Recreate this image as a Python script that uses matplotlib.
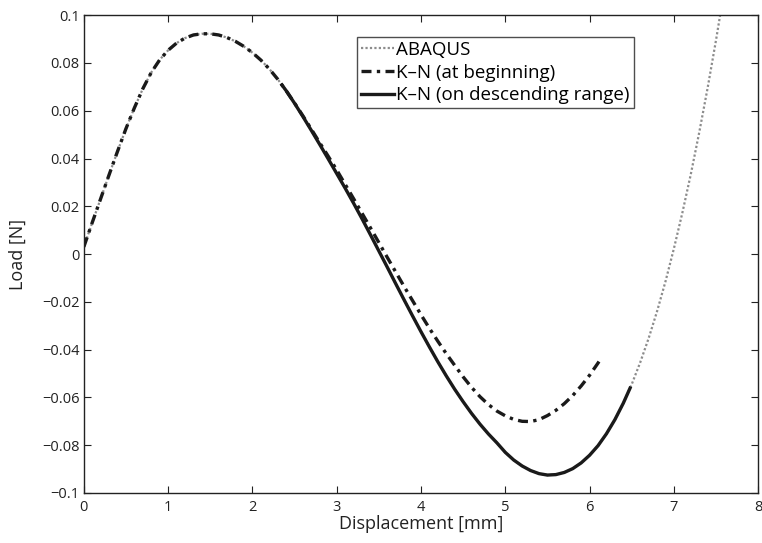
import matplotlib
matplotlib.use("Agg")
import matplotlib.pyplot as plt

# ABAQUS reference curve
abaqus_x = [0.0, 0.1, 0.2, 0.3, 0.4, 0.5, 0.6, 0.7, 0.8, 0.9, 1.0, 1.1, 1.2, 1.3, 1.4, 1.5,
            1.6, 1.7, 1.8, 1.9, 2.0, 2.1, 2.2, 2.3, 2.4, 2.5, 2.6, 2.7, 2.8, 2.9, 3.0,
            3.1, 3.2, 3.3, 3.4, 3.5, 3.6, 3.7, 3.8, 3.9, 4.0, 4.1, 4.2, 4.3, 4.4, 4.5,
            4.6, 4.7, 4.8, 4.9, 5.0, 5.1, 5.2, 5.3, 5.4, 5.5, 5.6, 5.7, 5.8, 5.9, 6.0,
            6.1, 6.2, 6.3, 6.4, 6.5, 6.6, 6.7, 6.8, 6.9, 7.0, 7.1, 7.2, 7.3, 7.4, 7.5, 7.6]
abaqus_y = [0.0030, 0.0132, 0.0232, 0.0332, 0.0430, 0.0525, 0.0612, 0.0692, 0.0760, 0.0813,
            0.0853, 0.0883, 0.0904, 0.0917, 0.0922, 0.0922, 0.0917, 0.0906, 0.0890, 0.0869,
            0.0843, 0.0812, 0.0775, 0.0732, 0.0684, 0.0631, 0.0575, 0.0517, 0.0458, 0.0398,
            0.0337, 0.0276, 0.0213, 0.0148, 0.0081, 0.0013, -0.0055, -0.0124, -0.0192, -0.0259,
            -0.0325, -0.0389, -0.0451, -0.0510, -0.0566, -0.0618, -0.0667, -0.0712, -0.0753,
            -0.0790, -0.0830, -0.0862, -0.0887, -0.0906, -0.0919, -0.0925, -0.0923, -0.0914,
            -0.0898, -0.0874, -0.0842, -0.0802, -0.0752, -0.0693, -0.0624, -0.0545, -0.0454,
            -0.0353, -0.0240, -0.0115, 0.0023, 0.0172, 0.0333, 0.0508, 0.0695, 0.0896, 0.1110]

# K-N (at beginning)
kn_begin_x = [0.0, 0.1, 0.2, 0.3, 0.4, 0.5, 0.6, 0.7, 0.8, 0.9, 1.0, 1.1, 1.2, 1.3, 1.4, 1.5,
              1.6, 1.7, 1.8, 1.9, 2.0, 2.1, 2.2, 2.3, 2.4, 2.5, 2.6, 2.7, 2.8, 2.9, 3.0,
              3.1, 3.2, 3.3, 3.4, 3.5, 3.6, 3.7, 3.8, 3.9, 4.0, 4.1, 4.2, 4.3, 4.4, 4.5,
              4.6, 4.7, 4.8, 4.9, 5.0, 5.1, 5.2, 5.3, 5.4, 5.5, 5.6, 5.7, 5.8, 5.9, 6.0,
              6.1, 6.12]
kn_begin_y = [0.0030, 0.0132, 0.0232, 0.0332, 0.0430, 0.0525, 0.0612, 0.0692, 0.0760, 0.0813,
              0.0853, 0.0883, 0.0904, 0.0917, 0.0922, 0.0922, 0.0917, 0.0906, 0.0890, 0.0869,
              0.0843, 0.0812, 0.0775, 0.0732, 0.0684, 0.0632, 0.0578, 0.0522, 0.0465, 0.0409,
              0.0352, 0.0292, 0.0232, 0.0171, 0.0110, 0.0048, -0.0014, -0.0075, -0.0136,
              -0.0195, -0.0254, -0.0311, -0.0365, -0.0417, -0.0466, -0.0514, -0.0558, -0.0597,
              -0.0630, -0.0657, -0.0677, -0.0692, -0.0700, -0.0701, -0.0693, -0.0676, -0.0654,
              -0.0626, -0.0592, -0.0552, -0.0507, -0.0456, -0.0445]

# K-N (on descending range)
kn_desc_x = [2.35, 2.4, 2.5, 2.6, 2.7, 2.8, 2.9, 3.0, 3.1, 3.2, 3.3, 3.4, 3.5, 3.6, 3.7,
             3.8, 3.9, 4.0, 4.1, 4.2, 4.3, 4.4, 4.5, 4.6, 4.7, 4.8, 4.9, 5.0, 5.1, 5.2,
             5.3, 5.4, 5.5, 5.6, 5.7, 5.8, 5.9, 6.0, 6.1, 6.2, 6.3, 6.4, 6.48]
kn_desc_y = [0.0708, 0.0684, 0.0631, 0.0575, 0.0517, 0.0458, 0.0398, 0.0337, 0.0276, 0.0213,
             0.0148, 0.0081, 0.0013, -0.0055, -0.0124, -0.0192, -0.0259, -0.0325, -0.0389,
             -0.0451, -0.0510, -0.0566, -0.0618, -0.0667, -0.0712, -0.0753, -0.0790, -0.0830,
             -0.0862, -0.0887, -0.0906, -0.0919, -0.0925, -0.0923, -0.0914, -0.0898, -0.0874,
             -0.0842, -0.0802, -0.0752, -0.0693, -0.0624, -0.0561]

x_ticks = [0, 1, 2, 3, 4, 5, 6, 7, 8]
y_ticks = [-0.1, -0.08, -0.06, -0.04, -0.02, 0, 0.02, 0.04, 0.06, 0.08, 0.1]
y_ticklabels = ["\u22120.1", "\u22120.08", "\u22120.06", "\u22120.04", "\u22120.02", "0",
                "0.02", "0.04", "0.06", "0.08", "0.1"]

plt.rcParams['font.family'] = ['Open Sans', 'DejaVu Sans']

fig = plt.figure(figsize=(7.62, 5.43), dpi=100)
ax = fig.add_axes([0.110, 0.0921, 0.885, 0.880])

ax.plot(abaqus_x, abaqus_y, color='#8c8c8c', linestyle=(0, (1, 1)), linewidth=1.6,
        label='ABAQUS')
ax.plot(kn_begin_x, kn_begin_y, color='#1a1a1a', linestyle=(0, (3, 1.6, 1, 1.6)),
        linewidth=2.4, label='K\u2013N (at beginning)')
ax.plot(kn_desc_x, kn_desc_y, color='#1a1a1a', linestyle='-', linewidth=2.4,
        label='K\u2013N (on descending range)')

ax.set_xlim(0, 8)
ax.set_ylim(-0.1, 0.1)
ax.set_xticks(x_ticks)
ax.set_xticklabels([str(t) for t in x_ticks])
ax.set_yticks(y_ticks)
ax.set_yticklabels(y_ticklabels)
ax.tick_params(direction='in', top=True, right=True, length=5, width=0.8,
               labelsize=10.5, colors='#222222')
ax.tick_params(axis='x', pad=5)
ax.tick_params(axis='y', pad=3)
for s in ax.spines.values():
    s.set_linewidth(1.0)
    s.set_color('#222222')

ax.set_xlabel('Displacement [mm]', fontsize=13, color='#222222')
ax.xaxis.set_label_coords(0.5, -0.046)
ax.set_ylabel('Load [N]', fontsize=13, color='#222222')
ax.yaxis.set_label_coords(-0.085, 0.5)

leg = ax.legend(loc='upper left', bbox_to_anchor=(0.405, 0.954), fontsize=13.5,
                frameon=True, fancybox=False, handlelength=1.8, handletextpad=0.1,
                borderpad=0.2, labelspacing=0.25, borderaxespad=0)
leg.get_frame().set_edgecolor('#222222')
leg.get_frame().set_linewidth(1.0)

fig.savefig('out.png', dpi=100)
